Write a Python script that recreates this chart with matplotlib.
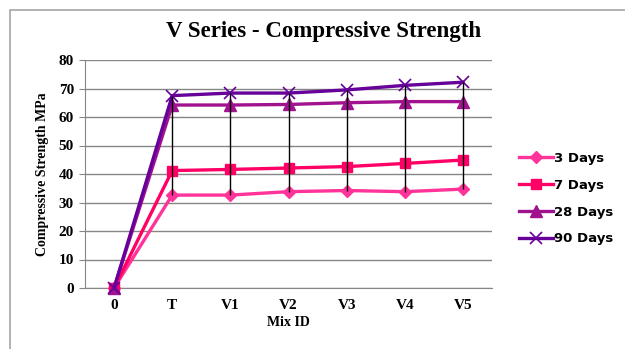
import matplotlib
matplotlib.use("Agg")
import matplotlib.pyplot as plt
import numpy as np
from matplotlib.patches import Rectangle

# mix IDs along the x axis and strength (MPa) per curing age
mixes = ["0", "T", "V1", "V2", "V3", "V4", "V5"]
days_3 = [0, 32.6, 32.6, 33.8, 34.2, 33.8, 34.7]
days_7 = [0, 41.2, 41.6, 42.1, 42.6, 43.7, 44.9]
days_28 = [0, 64.2, 64.2, 64.4, 65.0, 65.4, 65.4]
days_90 = [0, 67.5, 68.4, 68.4, 69.5, 71.1, 72.2]
series_names = ["3 Days", "7 Days", "28 Days", "90 Days"]

serif = "Liberation Serif"

fig = plt.figure(figsize=(6.25, 3.49), dpi=100)
ax = fig.add_axes([85 / 625, 1 - 288 / 349, 407 / 625, 228 / 349])

# grey chart border (left + top only, the rest is cut off)
fig.patches.append(Rectangle((10 / 625, -0.1), 1.2, 1.1 - 10 / 349,
                             transform=fig.transFigure, fill=False,
                             edgecolor="#a6a6a6", linewidth=1.2, zorder=0))

x = np.arange(len(mixes))
styles = [
    dict(color="#ff3399", marker="D", markersize=6),
    dict(color="#ff0066", marker="s", markersize=7.5),
    dict(color="#a0128e", marker="^", markersize=8),
    dict(color="#660099", marker="x", markersize=8, markeredgewidth=1.2),
]
all_series = [days_3, days_7, days_28, days_90]
for vals, name, st in zip(all_series, series_names, styles):
    ax.plot(x, vals, linewidth=2.4, label=name, zorder=3, clip_on=False, **st)

# high-low lines between lowest and highest age at each mix
data = np.array(all_series)
ax.vlines(x[1:], data.min(axis=0)[1:], data.max(axis=0)[1:],
          color="black", linewidth=1, zorder=4)

ax.set_xlim(-0.5, 6.5)
ax.set_ylim(0, 80)
ax.set_yticks(np.arange(0, 81, 10))
ax.set_xticks(x)
ax.set_xticklabels(mixes)
ax.grid(axis="y", color="#868686", linewidth=1)
ax.set_axisbelow(True)
for s in ["top", "right"]:
    ax.spines[s].set_visible(False)
for s in ["left", "bottom"]:
    ax.spines[s].set_color("#868686")
ax.tick_params(axis="y", length=4, color="#868686", pad=4)
ax.tick_params(axis="x", length=0, pad=8)
for lab in ax.get_xticklabels() + ax.get_yticklabels():
    lab.set_fontfamily(serif)
    lab.set_fontweight("bold")
    lab.set_fontsize(11)

ax.set_xlabel("Mix ID", fontfamily=serif, fontweight="bold", fontsize=10, labelpad=3)
ax.set_ylabel("Compressive Strength MPa", fontfamily=serif, fontweight="bold",
              fontsize=10, labelpad=7)

fig.text(324 / 625, 1 - 31 / 349, "V Series - Compressive Strength",
         ha="center", va="center", fontfamily=serif, fontweight="bold", fontsize=16.5)

fig.legend(loc="upper left", bbox_to_anchor=(507 / 625, 1 - 140 / 349),
           frameon=False, handlelength=2.6, handletextpad=0.1,
           labelspacing=1.05, prop=dict(family="DejaVu Sans", weight="bold", size=9.5))

fig.savefig("out.png", dpi=100)
